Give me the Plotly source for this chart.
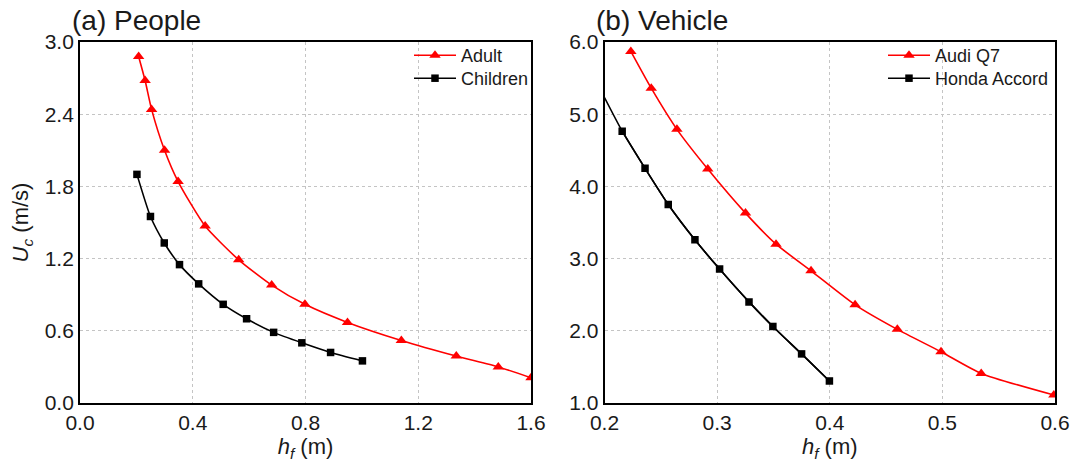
import plotly.graph_objects as go
from plotly.subplots import make_subplots

# ---- data ----
adult_h = [0.208, 0.231, 0.254, 0.300, 0.348, 0.444, 0.563, 0.680, 0.798, 0.949, 1.140, 1.335, 1.484, 1.600]
adult_u = [2.88, 2.68, 2.44, 2.10, 1.84, 1.47, 1.19, 0.98, 0.82, 0.67, 0.52, 0.39, 0.30, 0.21]

child_h = [0.202, 0.250, 0.299, 0.353, 0.421, 0.508, 0.591, 0.687, 0.787, 0.889, 1.002]
child_u = [1.90, 1.55, 1.33, 1.15, 0.99, 0.82, 0.70, 0.587, 0.50, 0.42, 0.35]

audi_h = [0.2234, 0.2415, 0.2643, 0.2917, 0.3252, 0.3523, 0.3834, 0.4225, 0.4600, 0.4988, 0.5345, 0.5990]
audi_u = [5.87, 5.36, 4.79, 4.24, 3.63, 3.20, 2.83, 2.36, 2.02, 1.71, 1.41, 1.11]

# first Honda point is where the curve meets the axis frame (no marker visible there)
honda_h = [0.200, 0.2157, 0.2360, 0.2566, 0.2803, 0.3022, 0.3283, 0.3495, 0.3750, 0.3997]
honda_u = [5.23, 4.765, 4.25, 3.75, 3.26, 2.855, 2.40, 2.06, 1.68, 1.305]

panel_titles = ["(a) People", "(b) Vehicle"]
x_title = "<i>h<sub>f</sub></i> (m)"
y_title = "<i>U<sub>c</sub></i> (m/s)"

FONT = "Arial, Liberation Sans, sans-serif"
RED = "#ff0000"
BLACK = "#000000"
TXT = "#1a1a1a"

W, H = 1073, 468
ML, MR, MT, MB = 80, 18, 42, 65
PW = W - ML - MR
PH = H - MT - MB

def px_x(p):
    return (p - ML) / PW

def px_y(p):
    return (H - MB - p) / PH

fig = make_subplots(rows=1, cols=2, horizontal_spacing=0.0)

LINE = dict(width=1.6, shape="spline", smoothing=0.6)

fig.add_trace(go.Scatter(x=adult_h, y=adult_u, name="Adult", mode="lines+markers",
                         line=dict(color=RED, **LINE),
                         marker=dict(symbol="triangle-up", size=10, color=RED),
                         legend="legend"), row=1, col=1)
fig.add_trace(go.Scatter(x=child_h, y=child_u, name="Children", mode="lines+markers",
                         line=dict(color=BLACK, **LINE),
                         marker=dict(symbol="square", size=7.5, color=BLACK),
                         legend="legend2"), row=1, col=1)
fig.add_trace(go.Scatter(x=audi_h, y=audi_u, name="Audi Q7", mode="lines+markers",
                         line=dict(color=RED, **LINE),
                         marker=dict(symbol="triangle-up", size=10, color=RED),
                         legend="legend3"), row=1, col=2)
fig.add_trace(go.Scatter(x=honda_h, y=honda_u, mode="lines", showlegend=False,
                         line=dict(color=BLACK, **LINE), hoverinfo="skip"), row=1, col=2)
fig.add_trace(go.Scatter(x=honda_h[1:], y=honda_u[1:], name="Honda Accord", mode="lines+markers",
                         line=dict(color=BLACK, **LINE),
                         marker=dict(symbol="square", size=7.5, color=BLACK),
                         legend="legend4"), row=1, col=2)

left_dom = [0.0, px_x(531)]
right_dom = [px_x(604.5), 1.0]

axis_common = dict(showline=True, linecolor="black", linewidth=1.8, mirror=True,
                   ticks="", showgrid=True, gridcolor="#c4c4c4", gridwidth=1,
                   griddash="3px,3px", zeroline=False, automargin=False,
                   tickfont=dict(family=FONT, size=21, color=TXT))

fig.update_xaxes(**axis_common)
fig.update_yaxes(**axis_common)

TFONT = dict(family=FONT, size=22, color=TXT)

def leg(xp, yp):
    return dict(x=px_x(xp), y=px_y(yp), xanchor="left", yanchor="top",
                bgcolor="rgba(0,0,0,0)", itemwidth=42,
                font=dict(family=FONT, size=18, color=TXT))

fig.update_layout(
    xaxis=dict(domain=left_dom, range=[0, 1.6], dtick=0.4, tick0=0, tickformat=".1f",
               title=dict(text=x_title, font=TFONT, standoff=5)),
    yaxis=dict(range=[0, 3.0], dtick=0.6, tick0=0, tickformat=".1f",
               title=dict(text=y_title, font=TFONT, standoff=10)),
    xaxis2=dict(domain=right_dom, range=[0.2, 0.6], dtick=0.1, tick0=0.2, tickformat=".1f",
                title=dict(text=x_title, font=TFONT, standoff=5)),
    yaxis2=dict(range=[1.0, 6.0], dtick=1.0, tick0=1, tickformat=".1f"),
    width=W, height=H,
    margin=dict(l=ML, r=MR, t=MT, b=MB, autoexpand=False),
    paper_bgcolor="white", plot_bgcolor="white",
    font=dict(family=FONT, color=TXT),
    legend=leg(409, 37),
    legend2=leg(409, 60),
    legend3=leg(883, 37),
    legend4=leg(883, 60),
)

for t, xp in zip(panel_titles, [70, 594]):
    fig.add_annotation(text=t, xref="paper", yref="paper", x=px_x(xp), y=px_y(21),
                       xanchor="left", yanchor="middle", showarrow=False,
                       font=dict(family=FONT, size=28, color=TXT))

fig.write_html("out.html", config={"displayModeBar": False},
               post_script="document.body.style.margin='0';")
